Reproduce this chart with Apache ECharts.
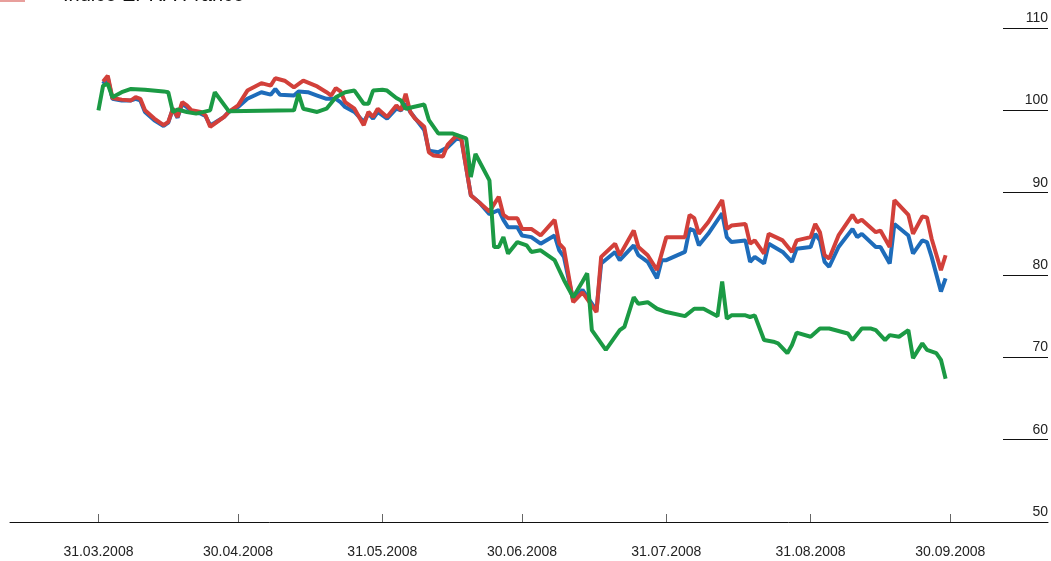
<!DOCTYPE html>
<html>
<head>
<meta charset="utf-8">
<script src="https://cdn.jsdelivr.net/npm/echarts@6/dist/echarts.min.js"></script>
<style>
html,body{margin:0;padding:0;background:#fff;}
#chart{width:1051px;height:561px;}
</style>
</head>
<body>
<div id="chart"></div>
<script>
// ---- data ----
const legendLabel = 'Indice EPRA France';
const tickLabels = ['31.03.2008','30.04.2008','31.05.2008','30.06.2008','31.07.2008','31.08.2008','30.09.2008'];
const yTicks = [50, 60, 70, 80, 90, 100, 110];

const blueSeries = [
['2008-04-01',103.2],['2008-04-02',104.0],['2008-04-03',101.4],['2008-04-05',101.2],['2008-04-07',101.2],
['2008-04-08',101.4],['2008-04-09',101.2],['2008-04-10',99.8],['2008-04-12',98.8],['2008-04-14',98.1],
['2008-04-15',98.5],['2008-04-16',100.2],['2008-04-17',99.1],['2008-04-18',100.8],['2008-04-19',100.4],
['2008-04-20',99.8],['2008-04-22',99.6],['2008-04-23',99.3],['2008-04-24',98.2],['2008-04-25',98.5],
['2008-04-27',99.2],['2008-04-28',99.8],['2008-04-30',100.4],['2008-05-02',101.4],['2008-05-05',102.2],
['2008-05-07',101.9],['2008-05-08',102.6],['2008-05-09',101.9],['2008-05-12',101.8],['2008-05-13',102.3],
['2008-05-15',102.2],['2008-05-17',101.8],['2008-05-19',101.4],['2008-05-21',101.4],['2008-05-22',101.0],
['2008-05-23',100.4],['2008-05-25',99.8],['2008-05-27',98.6],['2008-05-28',99.6],['2008-05-29',99.0],
['2008-05-30',99.8],['2008-06-01',99.0],['2008-06-03',100.2],['2008-06-04',100.0],['2008-06-05',100.8],
['2008-06-06',99.8],['2008-06-09',97.6],['2008-06-10',95.1],['2008-06-12',94.9],['2008-06-14',95.5],
['2008-06-16',96.6],['2008-06-17',96.4],['2008-06-19',89.7],['2008-06-21',88.7],['2008-06-23',87.4],
['2008-06-25',87.9],['2008-06-26',86.7],['2008-06-27',85.8],['2008-06-29',85.8],['2008-06-30',84.8],
['2008-07-02',84.6],['2008-07-04',83.8],['2008-07-07',84.8],['2008-07-08',83.0],['2008-07-09',82.2],
['2008-07-11',76.9],['2008-07-13',78.2],['2008-07-16',75.7],['2008-07-17',81.4],['2008-07-20',82.8],
['2008-07-21',81.8],['2008-07-24',83.6],['2008-07-25',82.4],['2008-07-27',81.6],['2008-07-29',79.6],
['2008-07-30',81.8],['2008-07-31',81.8],['2008-08-04',82.8],['2008-08-05',85.6],['2008-08-06',85.4],
['2008-08-07',83.6],['2008-08-09',85.0],['2008-08-12',87.5],['2008-08-13',84.6],['2008-08-14',84.0],
['2008-08-17',84.2],['2008-08-18',81.6],['2008-08-19',82.2],['2008-08-21',81.4],['2008-08-22',83.8],
['2008-08-25',82.8],['2008-08-27',81.6],['2008-08-28',83.2],['2008-08-31',83.4],['2008-09-01',85.0],
['2008-09-02',84.2],['2008-09-03',81.6],['2008-09-04',81.0],['2008-09-06',83.4],['2008-09-09',85.6],
['2008-09-10',84.6],['2008-09-11',85.0],['2008-09-14',83.4],['2008-09-15',83.4],['2008-09-17',81.4],
['2008-09-18',86.2],['2008-09-21',84.8],['2008-09-22',82.6],['2008-09-24',84.2],['2008-09-25',84.0],
['2008-09-26',82.2],['2008-09-28',78.0],['2008-09-29',79.6]
];

const redSeries = [
['2008-04-01',103.5],['2008-04-02',104.2],['2008-04-03',101.5],['2008-04-05',101.3],['2008-04-07',101.2],
['2008-04-08',101.6],['2008-04-09',101.4],['2008-04-10',100.0],['2008-04-12',99.0],['2008-04-14',98.2],
['2008-04-15',98.6],['2008-04-16',100.2],['2008-04-17',99.2],['2008-04-18',101.0],['2008-04-19',100.6],
['2008-04-20',100.0],['2008-04-22',99.8],['2008-04-23',99.4],['2008-04-24',98.0],['2008-04-25',98.4],
['2008-04-27',99.2],['2008-04-28',99.8],['2008-04-30',100.6],['2008-05-02',102.4],['2008-05-05',103.3],
['2008-05-07',103.0],['2008-05-08',103.9],['2008-05-10',103.6],['2008-05-12',102.8],['2008-05-14',103.6],
['2008-05-17',102.9],['2008-05-19',102.2],['2008-05-20',101.8],['2008-05-21',102.7],['2008-05-22',102.3],
['2008-05-23',101.0],['2008-05-25',100.2],['2008-05-27',98.2],['2008-05-28',99.8],['2008-05-29',99.2],
['2008-05-30',100.2],['2008-06-01',99.2],['2008-06-03',100.6],['2008-06-04',100.0],['2008-06-05',102.0],
['2008-06-06',99.8],['2008-06-07',99.0],['2008-06-09',98.0],['2008-06-10',94.9],['2008-06-11',94.5],
['2008-06-13',94.4],['2008-06-14',95.8],['2008-06-16',97.0],['2008-06-17',96.4],['2008-06-19',89.7],
['2008-06-21',88.7],['2008-06-23',87.7],['2008-06-25',89.5],['2008-06-26',87.3],['2008-06-27',86.9],
['2008-06-29',86.9],['2008-06-30',85.6],['2008-07-02',85.6],['2008-07-04',84.8],['2008-07-07',86.7],
['2008-07-08',83.8],['2008-07-09',83.2],['2008-07-11',76.7],['2008-07-13',77.9],['2008-07-16',75.5],
['2008-07-17',82.2],['2008-07-20',83.8],['2008-07-21',82.4],['2008-07-24',85.4],['2008-07-25',83.4],
['2008-07-27',82.4],['2008-07-29',80.6],['2008-07-31',84.6],['2008-08-04',84.6],['2008-08-05',87.3],
['2008-08-06',86.9],['2008-08-07',85.0],['2008-08-09',86.4],['2008-08-12',89.1],['2008-08-13',85.6],
['2008-08-14',86.0],['2008-08-17',86.2],['2008-08-18',83.8],['2008-08-19',84.2],['2008-08-21',82.6],
['2008-08-22',85.0],['2008-08-25',84.2],['2008-08-27',82.8],['2008-08-28',84.2],['2008-08-31',84.6],
['2008-09-01',86.2],['2008-09-02',85.2],['2008-09-03',82.4],['2008-09-04',82.0],['2008-09-06',84.8],
['2008-09-09',87.3],['2008-09-10',86.4],['2008-09-11',86.7],['2008-09-14',85.2],['2008-09-15',85.4],
['2008-09-17',83.4],['2008-09-18',89.1],['2008-09-21',87.3],['2008-09-22',85.0],['2008-09-24',87.1],
['2008-09-25',87.0],['2008-09-26',84.4],['2008-09-28',80.6],['2008-09-29',82.4]
];

const greenSeries = [
['2008-03-31',100.0],['2008-04-01',103.0],['2008-04-02',103.2],['2008-04-03',101.6],['2008-04-05',102.2],
['2008-04-07',102.6],['2008-04-10',102.5],['2008-04-14',102.3],['2008-04-15',102.2],['2008-04-16',99.8],
['2008-04-17',100.1],['2008-04-19',99.8],['2008-04-21',99.6],['2008-04-24',100.0],['2008-04-25',102.2],
['2008-04-28',99.9],['2008-05-12',100.0],['2008-05-13',102.0],['2008-05-14',100.2],['2008-05-17',99.8],
['2008-05-19',100.2],['2008-05-21',101.6],['2008-05-23',102.2],['2008-05-25',102.4],['2008-05-27',100.8],
['2008-05-28',100.8],['2008-05-29',102.4],['2008-05-31',102.5],['2008-06-01',102.4],['2008-06-03',101.5],
['2008-06-04',101.2],['2008-06-05',100.2],['2008-06-09',100.7],['2008-06-10',98.8],['2008-06-12',97.2],
['2008-06-15',97.2],['2008-06-18',96.6],['2008-06-19',91.9],['2008-06-20',94.7],['2008-06-23',91.5],
['2008-06-24',83.4],['2008-06-25',83.4],['2008-06-26',84.6],['2008-06-27',82.6],['2008-06-29',84.0],
['2008-07-01',83.6],['2008-07-02',82.8],['2008-07-04',83.0],['2008-07-07',81.8],['2008-07-09',79.4],
['2008-07-11',77.3],['2008-07-13',79.2],['2008-07-14',80.2],['2008-07-15',73.3],['2008-07-18',70.9],
['2008-07-21',73.3],['2008-07-22',73.7],['2008-07-24',77.3],['2008-07-25',76.5],['2008-07-27',76.7],
['2008-07-29',75.9],['2008-07-31',75.5],['2008-08-04',75.0],['2008-08-06',75.9],['2008-08-08',75.9],
['2008-08-11',75.0],['2008-08-12',79.2],['2008-08-13',74.7],['2008-08-14',75.1],['2008-08-17',75.1],
['2008-08-18',74.9],['2008-08-19',75.1],['2008-08-21',72.1],['2008-08-23',71.9],['2008-08-24',71.7],
['2008-08-26',70.5],['2008-08-27',71.5],['2008-08-28',73.0],['2008-08-31',72.5],['2008-09-02',73.5],
['2008-09-04',73.5],['2008-09-08',72.9],['2008-09-09',72.1],['2008-09-11',73.5],['2008-09-13',73.5],
['2008-09-14',73.3],['2008-09-16',72.1],['2008-09-17',72.7],['2008-09-19',72.5],['2008-09-21',73.3],
['2008-09-22',69.9],['2008-09-24',71.7],['2008-09-25',70.9],['2008-09-27',70.5],['2008-09-28',69.7],
['2008-09-29',67.4]
];

// ---- helpers ----
function parseDMY(s){ const p=s.split('.'); return new Date(+p[2], +p[1]-1, +p[0]).getTime(); }
function toTs(s){ const p=s.split('-'); return new Date(+p[0], +p[1]-1, +p[2]).getTime(); }
function pad(n){ return (n<10?'0':'')+n; }
function fmt(v){ const d=new Date(v); return pad(d.getDate())+'.'+pad(d.getMonth()+1)+'.'+d.getFullYear(); }
const tickValues = tickLabels.map(parseDMY);
const conv = arr => arr.map(p => [toTs(p[0]), p[1]]);

const RED='#d2403a', BLUE='#1e6cba', GREEN='#1b9a44';
const FONT='"Liberation Sans", Arial, sans-serif';

const chart = echarts.init(document.getElementById('chart'), null, {renderer:'canvas'});
chart.setOption({
  animation:false,
  backgroundColor:'#fff',
  grid:{left:10,right:3,top:28,bottom:39,containLabel:false},
  xAxis:{
    type:'value',
    min:new Date(2008,2,12).getTime(),
    max:new Date(2008,9,21).getTime(),
    axisLine:{show:true,onZero:false,lineStyle:{color:'#111',width:1}},
    axisTick:{show:true,inside:true,length:8,customValues:tickValues,lineStyle:{color:'#666',width:1}},
    axisLabel:{show:true,customValues:tickValues,formatter:fmt,margin:23,
      fontFamily:FONT,fontSize:14,color:'#222',hideOverlap:false},
    splitLine:{show:false}
  },
  yAxis:{
    type:'value',position:'right',min:50,max:110,interval:10,
    axisLine:{show:false},
    axisTick:{show:true,inside:true,length:45,lineStyle:{color:'#111',width:1}},
    axisLabel:{inside:true,margin:0,align:'right',verticalAlign:'bottom',padding:[0,0,3,0],
      fontFamily:FONT,fontSize:14,color:'#222',
      formatter:function(v){ return yTicks.indexOf(v)>=0 ? String(v) : ''; }},
    splitLine:{show:false}
  },
  graphic:[
    {type:'line',shape:{x1:0,y1:0,x2:25,y2:0},style:{stroke:RED,lineWidth:4,opacity:0.5}},
    {type:'text',left:63,top:-15,style:{text:legendLabel,fontFamily:FONT,fontSize:20,fill:'#111'}}
  ],
  series:[
    {name:'blue',type:'line',data:conv(blueSeries),showSymbol:false,symbol:'none',
      lineStyle:{color:BLUE,width:4},itemStyle:{color:BLUE},z:2},
    {name:'red',type:'line',data:conv(redSeries),showSymbol:false,symbol:'none',
      lineStyle:{color:RED,width:4},itemStyle:{color:RED},z:3},
    {name:'green',type:'line',data:conv(greenSeries),showSymbol:false,symbol:'none',
      lineStyle:{color:GREEN,width:4},itemStyle:{color:GREEN},z:4}
  ]
});
</script>
</body>
</html>
